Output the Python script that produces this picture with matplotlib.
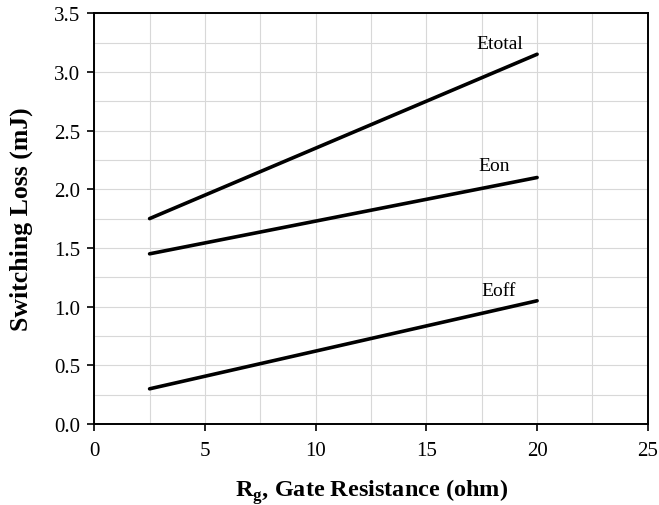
import matplotlib
matplotlib.use("Agg")
import matplotlib.pyplot as plt
from matplotlib.ticker import MultipleLocator

# gate resistance (ohm) and switching losses (mJ)
rg = [2.5, 20]
e_total = [1.75, 3.15]
e_on = [1.45, 2.1]
e_off = [0.3, 1.05]

plt.rcParams['font.family'] = ['Liberation Serif', 'DejaVu Serif']

fig = plt.figure(figsize=(6.59, 5.06), dpi=100)
ax = fig.add_axes([0.143, 0.160, 0.840, 0.812])

ax.plot(rg, e_total, color='black', linewidth=2.6, solid_capstyle='round')
ax.plot(rg, e_on, color='black', linewidth=2.6, solid_capstyle='round')
ax.plot(rg, e_off, color='black', linewidth=2.6, solid_capstyle='round')

# curve labels
ax.text(18.3, 3.245, 'Etotal', fontsize=14, ha='center', va='center')
ax.text(18.05, 2.2, 'Eon', fontsize=14, ha='center', va='center')
ax.text(18.25, 1.14, 'Eoff', fontsize=14, ha='center', va='center')

ax.set_xlim(0, 25)
ax.set_ylim(0, 3.5)
ax.xaxis.set_major_locator(MultipleLocator(5))
ax.xaxis.set_minor_locator(MultipleLocator(2.5))
ax.yaxis.set_major_locator(MultipleLocator(0.5))
ax.yaxis.set_minor_locator(MultipleLocator(0.25))
ax.yaxis.set_major_formatter(plt.FormatStrFormatter('%.1f'))

ax.grid(True, which='both', color='#d8d8d8', linewidth=0.8)
ax.set_axisbelow(True)
ax.tick_params(which='major', direction='out', length=5, width=1.2, labelsize=15,
               top=False, right=False)
ax.tick_params(axis='x', which='major', pad=7)
ax.tick_params(axis='y', which='major', pad=5)
ax.tick_params(which='minor', length=0)
for s in ax.spines.values():
    s.set_linewidth(1.4)

ax.set_xlabel(r'R$_\mathregular{g}$, Gate Resistance (ohm)', fontsize=17.5, fontweight='bold', labelpad=12)
ax.set_ylabel('Switching Loss (mJ)', fontsize=18.5, fontweight='bold', labelpad=15)

fig.savefig('out.png', dpi=100)
